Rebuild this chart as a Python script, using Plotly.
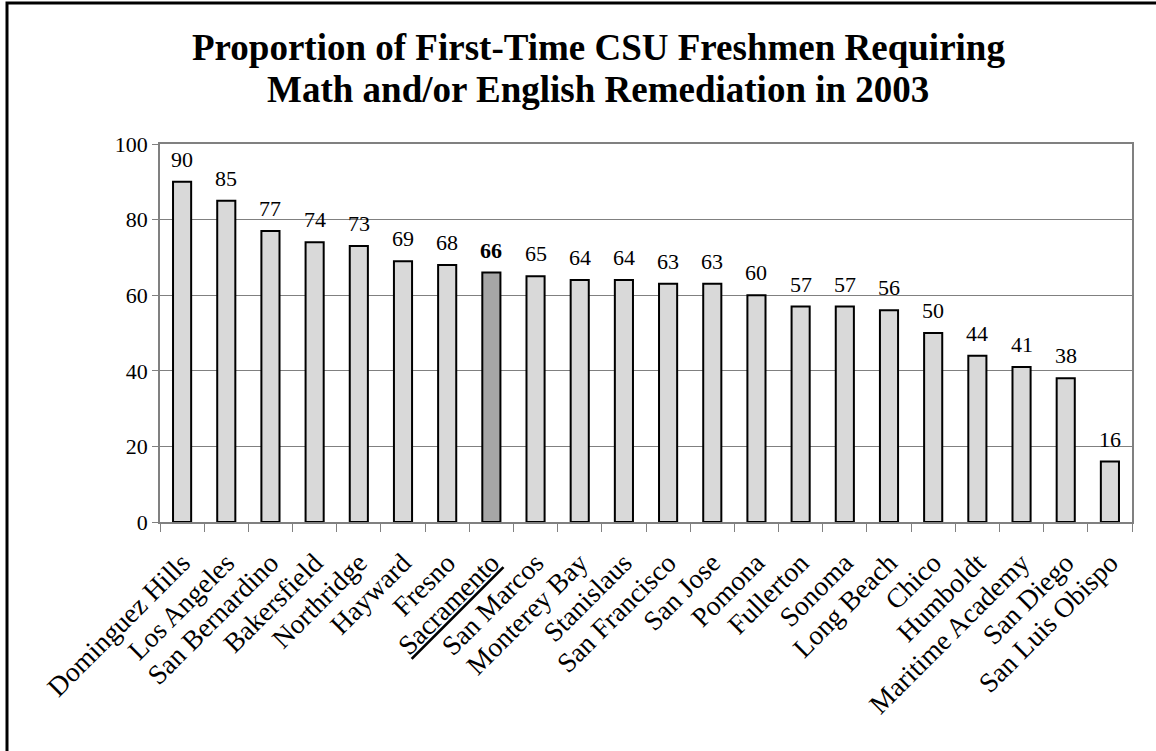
import plotly.graph_objects as go

campuses = ["Dominguez Hills", "Los Angeles", "San Bernardino", "Bakersfield", "Northridge",
            "Hayward", "Fresno", "Sacramento", "San Marcos", "Monterey Bay", "Stanislaus",
            "San Francisco", "San Jose", "Pomona", "Fullerton", "Sonoma", "Long Beach",
            "Chico", "Humboldt", "Maritime Academy", "San Diego", "San Luis Obispo"]
values = [90, 85, 77, 74, 73, 69, 68, 66, 65, 64, 64, 63, 63, 60, 57, 57, 56, 50, 44, 41, 38, 16]
highlight = "Sacramento"
y_ticks = [0, 20, 40, 60, 80, 100]
title_lines = ["Proportion of First-Time CSU Freshmen Requiring",
               "Math and/or English Remediation in 2003"]

FONT = "Times New Roman, Liberation Serif, serif"

colors = ["#A6A6A6" if c == highlight else "#D9D9D9" for c in campuses]
ticktext = ["<u>%s</u>" % c if c == highlight else c for c in campuses]

fig = go.Figure()
fig.add_trace(go.Bar(
    x=campuses, y=values,
    marker=dict(color=colors, line=dict(color="black", width=2)),
    width=0.41,
))

for c, v in zip(campuses, values):
    txt = "<b>%d</b>" % v if c == highlight else str(v)
    fig.add_annotation(x=c, y=v, text=txt, showarrow=False, yanchor="bottom",
                       yshift=8, font=dict(family=FONT, size=22, color="black"))

# title lines
for i, line in enumerate(title_lines):
    fig.add_annotation(xref="paper", yref="paper", x=0.451, y=1.254 - i * 0.111,
                       text="<b>%s</b>" % line, showarrow=False,
                       xanchor="center", yanchor="middle",
                       font=dict(family=FONT, size=37, color="black"))

fig.update_layout(
    width=1156, height=751,
    margin=dict(l=160, r=24, t=144, b=229),
    paper_bgcolor="white", plot_bgcolor="white",
    showlegend=False,
    font=dict(family=FONT, color="black"),
)
fig.update_xaxes(
    tickvals=campuses, ticktext=ticktext, tickangle=-45,
    tickfont=dict(family=FONT, size=27.5, color="black"),
    ticklabelstandoff=12,
    showline=True, linecolor="#808080", linewidth=1.5, mirror=True,
    ticks="outside", tickson="boundaries", ticklen=8, tickcolor="#808080",
    showgrid=False,
)
fig.update_yaxes(
    range=[0, 100], tickvals=y_ticks,
    tickfont=dict(family=FONT, size=22, color="black"),
    showline=True, linecolor="#808080", linewidth=1.5, mirror=True,
    ticks="outside", ticklen=6, tickcolor="#808080",
    showgrid=True, gridcolor="#808080", gridwidth=1,
    zeroline=False,
)

# outer chart border (left and top visible)
fig.add_shape(type="rect", xref="paper", yref="paper",
              x0=-153 / 972, x1=1.1, y0=-0.8, y1=1 + 141 / 378,
              line=dict(color="black", width=3), fillcolor="rgba(0,0,0,0)", layer="above")

fig.write_html("out.html")
